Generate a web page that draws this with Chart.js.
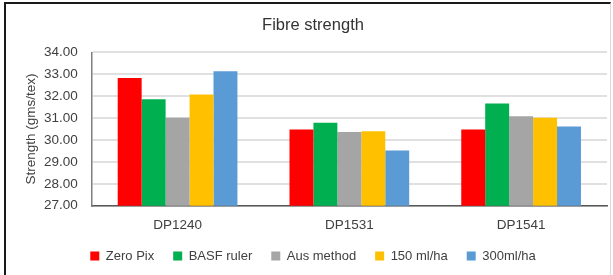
<!DOCTYPE html>
<html>
<head>
<meta charset="utf-8">
<script src="https://cdn.jsdelivr.net/npm/chart.js@4.4.1/dist/chart.umd.min.js"></script>
<style>
  html, body { margin: 0; padding: 0; background: #fff; }
  #wrap { position: relative; width: 613px; height: 275px; }
  #frame {
    position: absolute; left: 4px; top: 2px; width: 604px; height: 271px;
    border-left: 2px solid #1a1a1a; border-top: 2px solid #1a1a1a;
    border-right: 1px solid #dcdcdc; border-bottom: 1px solid #dcdcdc;
    pointer-events: none;
  }
</style>
</head>
<body>
<div id="wrap">
  <canvas id="myChart"></canvas>
  <div id="frame"></div>
</div>
<script>
// values
var varieties = ['DP1240', 'DP1531', 'DP1541'];
var zeroPix    = [32.83, 30.48, 30.48];
var basfRuler  = [31.86, 30.78, 31.66];
var ausMethod  = [31.01, 30.36, 31.08];
var ml150      = [32.07, 30.40, 31.01];
var ml300      = [33.13, 29.52, 30.61];

Chart.defaults.font.family = "'Liberation Sans', Arial, sans-serif";
Chart.defaults.color = '#404040';

function createChart() {
    var ctx = document.getElementById('myChart').getContext('2d');

    const data = {
        labels: varieties,
        datasets: [
            { label: 'Zero Pix',   data: zeroPix,   backgroundColor: '#ff0000' },
            { label: 'BASF ruler', data: basfRuler, backgroundColor: '#00b050' },
            { label: 'Aus method', data: ausMethod, backgroundColor: '#a5a5a5' },
            { label: '150 ml/ha',  data: ml150,     backgroundColor: '#ffc000' },
            { label: '300ml/ha',   data: ml300,     backgroundColor: '#5b9bd5' }
        ]
    };

    const config = {
        type: 'bar',
        data: data,
        options: {
            responsive: true,
            maintainAspectRatio: false,
            animation: false,
            datasets: {
                bar: {
                    categoryPercentage: 0.697,
                    barPercentage: 1.0,
                    borderWidth: 0
                }
            },
            layout: {
                padding: { top: 4, left: 19, right: 6, bottom: 2.5 }
            },
            scales: {
                x: {
                    grid: { display: false, drawTicks: false },
                    border: { display: true, color: '#595959', width: 1.5 },
                    ticks: { padding: 11, font: { size: 13.5 }, color: '#404040' },
                    afterFit: function(scale) { scale.height = 24.8; }
                },
                y: {
                    min: 27,
                    max: 34,
                    ticks: {
                        stepSize: 1,
                        padding: 14,
                        font: { size: 13.5 },
                        color: '#404040',
                        callback: function(v) { return v.toFixed(2); }
                    },
                    grid: { color: '#e0e0e0', lineWidth: 2, drawTicks: false },
                    border: { display: true, color: '#7f7f7f', width: 1.5 },
                    title: {
                        display: true,
                        text: 'Strength (gms/tex)',
                        font: { size: 13.5 },
                        color: '#404040',
                        padding: { top: 4, bottom: 0 }
                    },
                    afterFit: function(scale) { scale.width = 72.7; }
                }
            },
            plugins: {
                title: {
                    display: true,
                    text: 'Fibre strength',
                    font: { size: 16.5, weight: 'normal' },
                    color: '#333333',
                    padding: { top: 12, bottom: 16.5 }
                },
                legend: {
                    position: 'bottom',
                    labels: {
                        boxWidth: 9,
                        boxHeight: 9,
                        padding: 19,
                        font: { size: 13 },
                        color: '#404040'
                    }
                },
                tooltip: { enabled: false }
            }
        }
    };

    new Chart(ctx, config);
}

createChart();
</script>
</body>
</html>
